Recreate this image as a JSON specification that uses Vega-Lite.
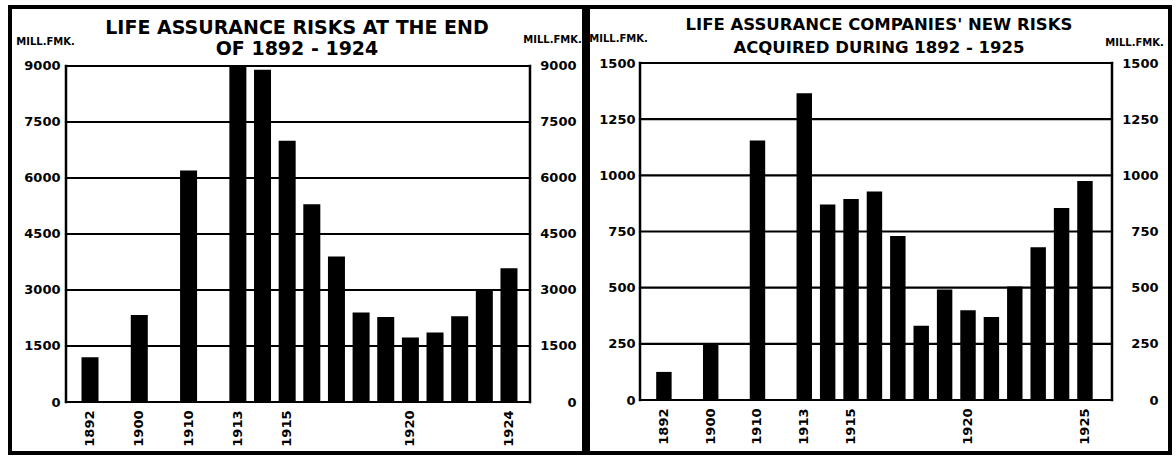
{
  "$schema": "https://vega.github.io/schema/vega-lite/v6.json",
  "padding": {"left": 8, "top": 5, "right": 2, "bottom": 2},
  "background": "#ffffff",
  "spacing": 0,
  "config": {
    "font": "DejaVu Sans",
    "view": {"stroke": "#000000", "strokeWidth": 4},
    "axis": {"labelColor": "#000000", "titleColor": "#000000", "labelFont": "DejaVu Sans", "titleFont": "DejaVu Sans", "labelFontWeight": "bold", "titleFontWeight": "bold", "labelFontSize": 13, "titleFontSize": 10, "ticks": false, "tickSize": 0, "domain": false, "grid": false, "labelOverlap": false, "labelFlush": false},
    "title": {"color": "#000000", "font": "DejaVu Sans", "fontWeight": "bold", "anchor": "middle", "frame": "group"}
  },
  "datasets": {
    "risks": [
      {"year": "1892", "value": 1200},
      {"year": "1900", "value": 2330},
      {"year": "1910", "value": 6200},
      {"year": "1913", "value": 9000},
      {"year": "1914", "value": 8900},
      {"year": "1915", "value": 7000},
      {"year": "1916", "value": 5300},
      {"year": "1917", "value": 3900},
      {"year": "1918", "value": 2400},
      {"year": "1919", "value": 2280},
      {"year": "1920", "value": 1730},
      {"year": "1921", "value": 1860},
      {"year": "1922", "value": 2300},
      {"year": "1923", "value": 3000},
      {"year": "1924", "value": 3580}
    ],
    "newrisks": [
      {"year": "1892", "value": 125},
      {"year": "1900", "value": 250},
      {"year": "1910", "value": 1155},
      {"year": "1913", "value": 1365},
      {"year": "1914", "value": 870},
      {"year": "1915", "value": 895},
      {"year": "1916", "value": 928},
      {"year": "1917", "value": 730},
      {"year": "1918", "value": 330},
      {"year": "1919", "value": 492},
      {"year": "1920", "value": 400},
      {"year": "1921", "value": 370},
      {"year": "1922", "value": 505},
      {"year": "1923", "value": 680},
      {"year": "1924", "value": 855},
      {"year": "1925", "value": 975}
    ]
  },
  "hconcat": [
    {
      "width": 574,
      "height": 446,
      "title": {"text": ["LIFE ASSURANCE  RISKS AT THE END", "OF 1892 - 1924"], "fontSize": 19, "lineHeight": 21, "baseline": "top", "offset": -52},
      "layer": [
        {
          "data": {"name": "risks"},
          "mark": {"type": "bar", "color": "#000000"},
          "encoding": {
            "x": {"field": "year", "type": "nominal", "sort": null,
              "scale": {"domain": ["p1", "p2", "1892", "g1", "1900", "g2", "1910", "g3", "1913", "1914", "1915", "1916", "1917", "1918", "1919", "1920", "1921", "1922", "1923", "1924", "p3", "p4"], "paddingInner": 0.31, "paddingOuter": 0.8, "align": 0.563},
              "axis": {"values": ["1892", "1900", "1910", "1913", "1915", "1920", "1924"], "orient": "bottom", "offset": -51, "labelAngle": -90, "labelAlign": "right", "labelBaseline": "middle", "labelPadding": 8, "title": null}},
            "y": {"field": "value", "type": "quantitative",
              "scale": {"domain": [-1366, 10580], "nice": false, "zero": false},
              "axis": {"orient": "left", "values": [0, 1500, 3000, 4500, 6000, 7500, 9000], "format": "d", "offset": -56, "labelPadding": 6, "title": "MILL.FMK.", "titleAngle": 0, "titleAlign": "center", "titleBaseline": "middle", "titleX": -21, "titleY": 34}}
          }
        },
        {
          "data": {"values": [{"v": 0}, {"v": 1500}, {"v": 3000}, {"v": 4500}, {"v": 6000}, {"v": 7500}, {"v": 9000}]},
          "mark": {"type": "rule", "color": "#000000", "strokeWidth": 2.2, "strokeCap": "square"},
          "encoding": {
            "x": {"datum": 0, "type": "quantitative", "scale": {"domain": [-12.07, 111.64], "nice": false, "zero": false}, "axis": null},
            "x2": {"datum": 100},
            "y": {"field": "v", "type": "quantitative",
              "scale": {"domain": [-1366, 10580], "nice": false, "zero": false},
              "axis": {"orient": "right", "values": [0, 1500, 3000, 4500, 6000, 7500, 9000], "format": "d", "offset": -54, "labelAlign": "right", "labelPadding": 46, "title": "MILL.FMK.", "titleAngle": 0, "titleAlign": "center", "titleBaseline": "middle", "titleX": 22, "titleY": 32}}
          }
        },
        {
          "data": {"values": [{}]},
          "mark": {"type": "rule", "color": "#000000", "strokeWidth": 2.5, "strokeCap": "square"},
          "encoding": {
            "x": {"datum": 0, "type": "quantitative", "scale": {"domain": [-12.07, 111.64], "nice": false, "zero": false}, "axis": null},
            "y": {"datum": 0, "type": "quantitative", "scale": {"domain": [-1366, 10580], "nice": false, "zero": false}, "axis": null},
            "y2": {"datum": 9000}
          }
        },
        {
          "data": {"values": [{}]},
          "mark": {"type": "rule", "color": "#000000", "strokeWidth": 2.5, "strokeCap": "square"},
          "encoding": {
            "x": {"datum": 100, "type": "quantitative", "scale": {"domain": [-12.07, 111.64], "nice": false, "zero": false}, "axis": null},
            "y": {"datum": 0, "type": "quantitative", "scale": {"domain": [-1366, 10580], "nice": false, "zero": false}, "axis": null},
            "y2": {"datum": 9000}
          }
        }
      ],
      "resolve": {"scale": {"x": "independent"}, "axis": {"y": "independent"}}
    },
    {
      "width": 582,
      "height": 446,
      "title": {"text": ["LIFE ASSURANCE COMPANIES' NEW RISKS", "ACQUIRED  DURING  1892 - 1925"], "fontSize": 16.5, "lineHeight": 23, "baseline": "top", "offset": -49},
      "layer": [
        {
          "data": {"name": "newrisks"},
          "mark": {"type": "bar", "color": "#000000"},
          "encoding": {
            "x": {"field": "year", "type": "nominal", "sort": null,
              "scale": {"domain": ["p1", "p2", "1892", "g1", "1900", "g2", "1910", "g3", "1913", "1914", "1915", "1916", "1917", "1918", "1919", "1920", "1921", "1922", "1923", "1924", "1925", "p3", "p4", "p5"], "paddingInner": 0.34, "paddingOuter": 0.61, "align": 0.75},
              "axis": {"values": ["1892", "1900", "1910", "1913", "1915", "1920", "1925"], "orient": "bottom", "offset": -53, "labelAngle": -90, "labelAlign": "right", "labelBaseline": "middle", "labelPadding": 8, "title": null}},
            "y": {"field": "value", "type": "quantitative",
              "scale": {"domain": [-235.9, 1749.3], "nice": false, "zero": false},
              "axis": {"orient": "left", "values": [0, 250, 500, 750, 1000, 1250, 1500], "format": "d", "offset": -52, "labelPadding": 5, "title": "MILL.FMK.", "titleAngle": 0, "titleAlign": "center", "titleBaseline": "middle", "titleX": -22, "titleY": 31}}
          }
        },
        {
          "data": {"values": [{"v": 0}, {"v": 250}, {"v": 500}, {"v": 750}, {"v": 1000}, {"v": 1250}, {"v": 1500}]},
          "mark": {"type": "rule", "color": "#000000", "strokeWidth": 2.2, "strokeCap": "square"},
          "encoding": {
            "x": {"datum": 0, "type": "quantitative", "scale": {"domain": [-11.02, 112.29], "nice": false, "zero": false}, "axis": null},
            "x2": {"datum": 100},
            "y": {"field": "v", "type": "quantitative",
              "scale": {"domain": [-235.9, 1749.3], "nice": false, "zero": false},
              "axis": {"orient": "right", "values": [0, 250, 500, 750, 1000, 1250, 1500], "format": "d", "offset": -58, "labelAlign": "right", "labelPadding": 46, "title": "MILL.FMK.", "titleAngle": 0, "titleAlign": "center", "titleBaseline": "middle", "titleX": 22, "titleY": 35}}
          }
        },
        {
          "data": {"values": [{}]},
          "mark": {"type": "rule", "color": "#000000", "strokeWidth": 2.5, "strokeCap": "square"},
          "encoding": {
            "x": {"datum": 0, "type": "quantitative", "scale": {"domain": [-11.02, 112.29], "nice": false, "zero": false}, "axis": null},
            "y": {"datum": 0, "type": "quantitative", "scale": {"domain": [-235.9, 1749.3], "nice": false, "zero": false}, "axis": null},
            "y2": {"datum": 1500}
          }
        },
        {
          "data": {"values": [{}]},
          "mark": {"type": "rule", "color": "#000000", "strokeWidth": 2.5, "strokeCap": "square"},
          "encoding": {
            "x": {"datum": 100, "type": "quantitative", "scale": {"domain": [-11.02, 112.29], "nice": false, "zero": false}, "axis": null},
            "y": {"datum": 0, "type": "quantitative", "scale": {"domain": [-235.9, 1749.3], "nice": false, "zero": false}, "axis": null},
            "y2": {"datum": 1500}
          }
        }
      ],
      "resolve": {"scale": {"x": "independent"}, "axis": {"y": "independent"}}
    }
  ]
}
